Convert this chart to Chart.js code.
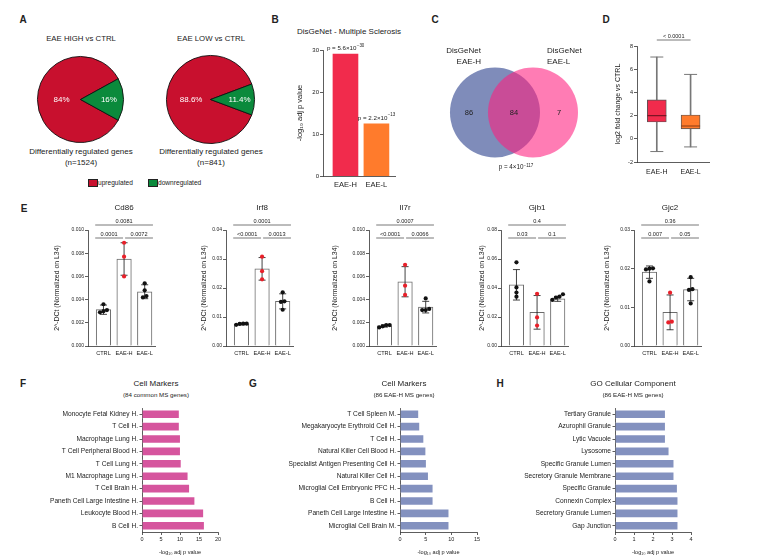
<!DOCTYPE html>
<html>
<head>
<meta charset="utf-8">
<script src="https://cdn.jsdelivr.net/npm/chart.js@4.4.1/dist/chart.umd.min.js"></script>
<style>
  body { margin: 0; background: #fff; }
  #fig { position: relative; width: 760px; height: 560px; overflow: hidden; font-family: 'Liberation Sans', Arial, sans-serif; color: #222; }
  #fig canvas { position: absolute; }
  .t { position: absolute; white-space: nowrap; line-height: 1; transform: translate(-50%, -50%); }
  .t sup { font-size: 72%; vertical-align: 0.45em; line-height: 0; }
  .sq { position: absolute; width: 8px; height: 6px; }
</style>
</head>
<body>
<div id="fig"></div>
<script>
// ---- A: pies
const pieCategories = ['upregulated', 'downregulated'];
const pieHigh = [84, 16];
const pieLow = [88.6, 11.4];
const pieN = [1524, 841];

// ---- B: DisGeNet bars
const msGroups = ['EAE-H', 'EAE-L'];
const msLogP = [29.0, 12.4];
const msMantissa = ['5.6', '2.2'];
const msExponent = ['30', '13'];

// ---- C: venn
const vennSets = ['EAE-H', 'EAE-L'];
const vennCounts = [86, 84, 7]; // H only, shared, L only

// ---- D: box plot
const boxGroups = ['EAE-H', 'EAE-L'];
const boxMin = [-1.1, -0.7];
const boxQ1 = [1.45, 0.85];
const boxMedian = [2.0, 1.1];
const boxQ3 = [3.35, 2.05];
const boxMax = [7.05, 5.55];

// ---- E: qPCR
const qpcrGroups = ['CTRL', 'EAE-H', 'EAE-L'];
const cd86Mean = [0.00313, 0.0075, 0.00468];
const cd86Sd = [0.0004, 0.0014, 0.0006];
const cd86Points = [[0.0029, 0.0036, 0.0031, 0.0030], [0.0089, 0.0077, 0.0060], [0.0042, 0.0054, 0.0048, 0.0043]];
const cd86P = ['0.0081', '0.0001', '0.0072'];
const irf8Mean = [0.0076, 0.0266, 0.0154];
const irf8Sd = [0.0003, 0.0039, 0.0026];
const irf8Points = [[0.0073, 0.0076, 0.0077, 0.0077], [0.0308, 0.0258, 0.0230], [0.0152, 0.0185, 0.0125, 0.0154]];
const irf8P = ['0.0001', '<0.0001', '0.0013'];
const il7rMean = [0.00173, 0.00554, 0.00335];
const il7rSd = [0.0001, 0.0013, 0.0005];
const il7rPoints = [[0.0016, 0.0017, 0.0018, 0.0018], [0.0070, 0.0052, 0.0044], [0.0031, 0.0041, 0.0032, 0.0031]];
const il7rP = ['0.0007', '<0.0001', '0.0066'];
const gjb1Mean = [0.0422, 0.0232, 0.0325];
const gjb1Sd = [0.0105, 0.0116, 0.0017];
const gjb1Points = [[0.0577, 0.0404, 0.0369, 0.0340], [0.0360, 0.0197, 0.0141], [0.0318, 0.0334, 0.0340, 0.0357]];
const gjb1P = ['0.4', '0.03', '0.1'];
const gjc2Mean = [0.0191, 0.0087, 0.0146];
const gjc2Sd = [0.0016, 0.0045, 0.0029];
const gjc2Points = [[0.0201, 0.0200, 0.0198, 0.0167], [0.0138, 0.0061, 0.0063], [0.0178, 0.0147, 0.0145, 0.0110]];
const gjc2P = ['0.36', '0.007', '0.05'];

// ---- F, G, H: enrichment
const commonLabels = ['Monocyte Fetal Kidney H.', 'T Cell H.', 'Macrophage Lung H.', 'T Cell Peripheral Blood H.', 'T Cell Lung H.', 'M1 Macrophage Lung H.', 'T Cell Brain H.', 'Paneth Cell Large Intestine H.', 'Leukocyte Blood H.', 'B Cell H.'];
const commonValues = [9.9, 9.9, 10.2, 10.2, 10.4, 12.2, 12.6, 14.0, 16.3, 16.5];
const highCellLabels = ['T Cell Spleen M.', 'Megakaryocyte Erythroid Cell H.', 'T Cell H.', 'Natural Killer Cell Blood H.', 'Specialist Antigen Presenting Cell H.', 'Natural Killer Cell H.', 'Microglial Cell Embryonic PFC H.', 'B Cell H.', 'Paneth Cell Large Intestine H.', 'Microglial Cell Brain M.'];
const highCellValues = [3.7, 3.9, 4.7, 5.1, 5.2, 5.6, 6.5, 6.5, 9.6, 9.6];
const goLabels = ['Tertiary Granule', 'Azurophil Granule', 'Lytic Vacuole', 'Lysosome', 'Specific Granule Lumen', 'Secretory Granule Membrane', 'Specific Granule', 'Connexin Complex', 'Secretory Granule Lumen', 'Gap Junction'];
const goValues = [2.67, 2.67, 2.67, 2.86, 3.12, 3.12, 3.3, 3.33, 3.33, 3.33];

// ---- styles
const FONT = "'Liberation Sans', Arial, sans-serif";
const AX = '#333';
const PIE_RED = '#C8102E', PIE_GREEN = '#0B8A3C';
const H_RED = '#F12B4C', L_ORANGE = '#FF7B2C';
const DOT_RED = '#E8202A';
const VENN_BLUE = '#7F8CBA', VENN_PINK = 'rgba(255, 30, 125, 0.58)';
const PINK_BAR = '#D6559E', BLUE_BAR = '#8391BF';

Chart.defaults.font.family = FONT;
Chart.defaults.color = '#222';
Chart.defaults.animation = false;
Chart.defaults.responsive = false;
Chart.defaults.events = [];
Chart.defaults.plugins.legend.display = false;
Chart.defaults.plugins.tooltip.enabled = false;

const fig = document.getElementById('fig');

function addCanvas(left, top, w, h) {
    const c = document.createElement('canvas');
    c.width = w; c.height = h;
    c.style.left = left + 'px'; c.style.top = top + 'px';
    c.style.width = w + 'px'; c.style.height = h + 'px';
    fig.appendChild(c);
    return c;
}

function text(html, x, y, size, opts = {}) {
    const d = document.createElement('div');
    d.className = 't';
    d.innerHTML = html;
    d.style.left = x + 'px';
    d.style.top = y + 'px';
    d.style.fontSize = size + 'px';
    if (opts.bold) d.style.fontWeight = 'bold';
    if (opts.align === 'left') d.style.transform = 'translate(0, -50%)';
    if (opts.align === 'right') d.style.transform = 'translate(-100%, -50%)';
    fig.appendChild(d);
    return d;
}

function sciText(ctx, base, exp, cx, cy, size) {
    ctx.save();
    ctx.fillStyle = '#222';
    ctx.textAlign = 'left';
    ctx.textBaseline = 'middle';
    ctx.font = size + 'px ' + FONT;
    const w1 = ctx.measureText(base).width;
    ctx.font = (size * 0.72) + 'px ' + FONT;
    const w2 = ctx.measureText(exp).width;
    const x0 = cx - (w1 + w2) / 2;
    ctx.font = size + 'px ' + FONT;
    ctx.fillText(base, x0, cy);
    ctx.font = (size * 0.72) + 'px ' + FONT;
    ctx.fillText(exp, x0 + w1 + 0.3, cy - size * 0.55);
    ctx.restore();
}

// fixed-size axis helpers
const border = { color: AX, width: 0.8 };
function fixWidth(w) { return s => { s.width = w; }; }
function fixHeight(h) { return s => { s.height = h; }; }

// ---------- panel letters
[['A', 23, 20], ['B', 275, 20], ['C', 435, 20], ['D', 606, 20], ['E', 24, 209], ['F', 23, 384], ['G', 253, 384], ['H', 500, 384]]
    .forEach(([l, x, y]) => text(l, x, y, 10, { bold: true }));

// ---------- A: pies
const PIE_LABEL_R = [0.44, 0.66];
const pieLabels = {
    id: 'pieLabels',
    afterDatasetsDraw(chart) {
        const ctx = chart.ctx;
        const ds = chart.data.datasets[0];
        ctx.save();
        ctx.fillStyle = '#fff';
        ctx.font = '8px ' + FONT;
        ctx.textAlign = 'center';
        ctx.textBaseline = 'middle';
        chart.getDatasetMeta(0).data.forEach((arc, i) => {
            const p = arc.getProps(['x', 'y', 'startAngle', 'endAngle', 'outerRadius'], true);
            const a = (p.startAngle + p.endAngle) / 2;
            const r = p.outerRadius * PIE_LABEL_R[i];
            ctx.fillText(ds.data[i] + '%', p.x + Math.cos(a) * r, p.y + Math.sin(a) * r);
        });
        ctx.restore();
    }
};

function pie(canvas, values) {
    // centre the small slice on 3 o'clock
    const rotation = -270 + 1.8 * values[1];
    new Chart(canvas, {
        type: 'pie',
        data: {
            labels: pieCategories,
            datasets: [{ data: values, backgroundColor: [PIE_RED, PIE_GREEN], borderColor: '#111', borderWidth: 0.9 }]
        },
        options: { rotation, layout: { padding: 1 } },
        plugins: [pieLabels]
    });
}
pie(addCanvas(36, 55, 89, 89), pieHigh);
pie(addCanvas(165, 54, 91, 91), pieLow);

text('EAE HIGH vs CTRL', 81, 39, 7.8);
text('EAE LOW vs CTRL', 211, 39, 7.8);
text('Differentially regulated genes', 81, 152, 8);
text('(n=' + pieN[0] + ')', 81, 163, 8);
text('Differentially regulated genes', 211, 152, 8);
text('(n=' + pieN[1] + ')', 211, 163, 8);

[[PIE_RED, 88], [PIE_GREEN, 148]].forEach(([col, x], i) => {
    const s = document.createElement('div');
    s.className = 'sq';
    s.style.left = x + 'px'; s.style.top = '179px';
    s.style.background = col; s.style.border = '0.5px solid #222';
    fig.appendChild(s);
    text(pieCategories[i], x + 10, 182.5, 6.6, { align: 'left' });
});

// ---------- B: DisGeNet bars
text('DisGeNet - Multiple Sclerosis', 349, 32, 8);
const msPLabels = {
    id: 'msPLabels',
    afterDatasetsDraw(chart) {
        const { x, y } = chart.scales;
        msGroups.forEach((g, i) => {
            sciText(chart.ctx, 'p = ' + msMantissa[i] + '×10', '−' + msExponent[i],
                x.getPixelForValue(i + 1), y.getPixelForValue(msLogP[i]) - 5.5, 6.2);
        });
    }
};
new Chart(addCanvas(295, 30, 108, 165), {
    type: 'bar',
    data: {
        datasets: [{
            data: msLogP.map((v, i) => ({ x: i + 1, y: v })),
            backgroundColor: [H_RED, L_ORANGE],
            barThickness: 25
        }]
    },
    options: {
        layout: { padding: { top: 20, right: 8 } },
        scales: {
            x: {
                type: 'linear', min: 0.274, max: 2.6, offset: false,
                afterBuildTicks: s => { s.ticks = msGroups.map((g, i) => ({ value: i + 1 })); },
                afterFit: fixHeight(19),
                border,
                grid: { drawOnChartArea: false, drawTicks: false, offset: false },
                ticks: { callback: v => msGroups[v - 1], font: { size: 7.5 }, padding: 4, autoSkip: false, maxRotation: 0 }
            },
            y: {
                min: 0, max: 30,
                afterFit: fixWidth(28),
                border,
                grid: { drawOnChartArea: false, color: AX, lineWidth: 0.8, tickLength: 3 },
                ticks: { stepSize: 10, font: { size: 6 }, padding: 1 },
                title: { display: true, text: '-log₁₀ adj p value', font: { size: 7.5 }, padding: 0 }
            }
        }
    },
    plugins: [msPLabels]
});

// ---------- C: venn
// bubble charts pad the chart area by the largest radius, so the canvas
// is grown by VENN_R on each side to keep the plot area at 440..590 x 60..165
const VENN_R = 45;
const vennNumbers = {
    id: 'vennNumbers',
    afterDatasetsDraw(chart) {
        const { x, y } = chart.scales;
        const c0 = x.getPixelForValue(0), c1 = x.getPixelForValue(1), cy = y.getPixelForValue(0);
        const spots = [((c0 - VENN_R) + (c1 - VENN_R)) / 2, (c0 + c1) / 2, ((c0 + VENN_R) + (c1 + VENN_R)) / 2];
        const ctx = chart.ctx;
        ctx.save();
        ctx.fillStyle = '#222';
        ctx.font = '7.5px ' + FONT;
        ctx.textAlign = 'center';
        ctx.textBaseline = 'middle';
        vennCounts.forEach((n, i) => ctx.fillText(String(n), spots[i], cy));
        ctx.restore();
    }
};
new Chart(addCanvas(440 - VENN_R, 60 - VENN_R, 150 + 2 * VENN_R, 105 + 2 * VENN_R), {
    type: 'bubble',
    data: {
        datasets: [{
            data: vennSets.map((s, i) => ({ x: i, y: 0, r: VENN_R })),
            backgroundColor: [VENN_BLUE, VENN_PINK],
            borderWidth: 0,
            clip: false
        }]
    },
    options: {
        layout: { padding: 0 },
        scales: {
            x: { display: false, min: -1.447, max: 2.5 },
            y: { display: false, min: -1, max: 1 }
        }
    },
    plugins: [vennNumbers]
});
text('DisGeNet', 481, 51, 8, { align: 'right' });
text(vennSets[0], 481, 62, 8, { align: 'right' });
text('DisGeNet', 547, 51, 8, { align: 'left' });
text(vennSets[1], 547, 62, 8, { align: 'left' });
text('p = 4×10<sup>−117</sup>', 516, 167, 6.3);

// ---------- D: box plot
const boxSig = {
    id: 'boxSig',
    afterDraw(chart) {
        const { ctx, chartArea, scales: { x } } = chart;
        const x0 = x.getPixelForValue(1), x1 = x.getPixelForValue(2), yy = chartArea.top - 6;
        ctx.save();
        ctx.strokeStyle = '#555'; ctx.lineWidth = 0.8;
        ctx.beginPath(); ctx.moveTo(x0, yy); ctx.lineTo(x1, yy); ctx.stroke();
        ctx.fillStyle = '#222'; ctx.font = '5.5px ' + FONT; ctx.textAlign = 'center'; ctx.textBaseline = 'alphabetic';
        ctx.fillText('< 0.0001', (x0 + x1) / 2, yy - 2.5);
        ctx.restore();
    }
};
new Chart(addCanvas(614, 25, 106, 160), {
    type: 'bar',
    data: {
        datasets: [
            {
                type: 'bar', grouped: false, order: 3,
                data: boxGroups.map((g, i) => ({ x: i + 1, y: [boxMin[i], boxMax[i]] })),
                backgroundColor: '#777', barThickness: 1
            },
            {
                type: 'bar', grouped: false, order: 2,
                data: boxGroups.map((g, i) => ({ x: i + 1, y: [boxQ1[i], boxQ3[i]] })),
                backgroundColor: [H_RED, L_ORANGE], borderColor: '#555', borderWidth: 0.9,
                borderSkipped: false, barThickness: 19
            },
            {
                type: 'scatter', order: 1,
                data: boxGroups.map((g, i) => ({ x: i + 1, y: boxMedian[i] })),
                pointStyle: 'line', pointRadius: 9.5, pointBorderColor: ['#7d1424', '#8a3a10'], pointBorderWidth: 1.1
            },
            {
                type: 'scatter', order: 1,
                data: boxGroups.flatMap((g, i) => [{ x: i + 1, y: boxMin[i] }, { x: i + 1, y: boxMax[i] }]),
                pointStyle: 'line', pointRadius: 6.5, pointBorderColor: '#777', pointBorderWidth: 1
            }
        ]
    },
    options: {
        layout: { padding: { top: 21, right: 8 } },
        scales: {
            x: {
                type: 'linear', min: 0.414, max: 2.557, offset: false,
                afterBuildTicks: s => { s.ticks = boxGroups.map((g, i) => ({ value: i + 1 })); },
                afterFit: fixHeight(23),
                border,
                grid: { drawOnChartArea: false, drawTicks: false, offset: false },
                ticks: { callback: v => boxGroups[v - 1], font: { size: 7 }, padding: 6, autoSkip: false, maxRotation: 0 }
            },
            y: {
                min: -2, max: 8,
                afterFit: fixWidth(23),
                border,
                grid: { drawOnChartArea: false, color: AX, lineWidth: 0.8, tickLength: 3 },
                ticks: { stepSize: 2, font: { size: 5.5 }, padding: 1 },
                title: { display: true, text: 'log2 fold change vs CTRL', font: { size: 7 }, padding: 0 }
            }
        }
    },
    plugins: [boxSig]
});

// ---------- E: qPCR panels
const qpcrGenes = [
    { gene: 'Cd86', mean: cd86Mean, sd: cd86Sd, points: cd86Points, p: cd86P, yMax: 0.010, step: 0.002, dec: 3 },
    { gene: 'Irf8', mean: irf8Mean, sd: irf8Sd, points: irf8Points, p: irf8P, yMax: 0.04, step: 0.01, dec: 2 },
    { gene: 'Il7r', mean: il7rMean, sd: il7rSd, points: il7rPoints, p: il7rP, yMax: 0.010, step: 0.002, dec: 3 },
    { gene: 'Gjb1', mean: gjb1Mean, sd: gjb1Sd, points: gjb1Points, p: gjb1P, yMax: 0.08, step: 0.02, dec: 2 },
    { gene: 'Gjc2', mean: gjc2Mean, sd: gjc2Sd, points: gjc2Points, p: gjc2P, yMax: 0.03, step: 0.01, dec: 2 }
];
const qpcrLayout = [
    { axisX: 88, axisW: 35 },
    { axisX: 226, axisW: 26 },
    { axisX: 369, axisW: 38 },
    { axisX: 501, axisW: 23 },
    { axisX: 634, axisW: 31 }
];

// spread points that would overlap, like a small beeswarm
function swarm(vals, yMax) {
    const thr = yMax * 0.035, step = 0.17;
    const idx = vals.map((v, i) => i).sort((a, b) => vals[a] - vals[b]);
    const off = vals.map(() => 0);
    let cluster = [idx[0]];
    const flush = () => cluster.forEach((k, j) => { off[k] = (j - (cluster.length - 1) / 2) * step; });
    for (let j = 1; j < idx.length; j++) {
        if (vals[idx[j]] - vals[idx[j - 1]] < thr) cluster.push(idx[j]);
        else { flush(); cluster = [idx[j]]; }
    }
    flush();
    return off;
}

function errorBars(g) {
    return {
        id: 'errorBars',
        afterDatasetDraw(chart, args) {
            if (args.index !== 0) return;
            const { ctx, scales: { x, y } } = chart;
            ctx.save();
            ctx.strokeStyle = '#111';
            ctx.lineWidth = 0.8;
            g.mean.forEach((m, k) => {
                const px = x.getPixelForValue(k + 1);
                const top = y.getPixelForValue(m + g.sd[k]);
                const bot = y.getPixelForValue(Math.max(0, m - g.sd[k]));
                ctx.beginPath();
                ctx.moveTo(px, top); ctx.lineTo(px, bot);
                ctx.moveTo(px - 3.5, top); ctx.lineTo(px + 3.5, top);
                ctx.moveTo(px - 3.5, bot); ctx.lineTo(px + 3.5, bot);
                ctx.stroke();
            });
            ctx.restore();
        }
    };
}

function brackets(g) {
    // top: CTRL vs EAE-L, lower left: CTRL vs EAE-H, lower right: EAE-H vs EAE-L
    const rows = [[0.6, 3.4, -5], [0.6, 1.95, 8], [2.05, 3.4, 8]];
    return {
        id: 'brackets',
        afterDraw(chart) {
            const { ctx, chartArea, scales: { x } } = chart;
            ctx.save();
            ctx.strokeStyle = '#555';
            ctx.lineWidth = 0.8;
            ctx.fillStyle = '#222';
            ctx.textAlign = 'center';
            ctx.textBaseline = 'alphabetic';
            ctx.font = '5.6px ' + FONT;
            rows.forEach((r, i) => {
                const x0 = x.getPixelForValue(r[0]), x1 = x.getPixelForValue(r[1]);
                const yy = chartArea.top + r[2];
                ctx.beginPath(); ctx.moveTo(x0, yy); ctx.lineTo(x1, yy); ctx.stroke();
                ctx.fillText(g.p[i], (x0 + x1) / 2, yy - 2.5);
            });
            ctx.textBaseline = 'middle';
            ctx.font = '8px ' + FONT;
            ctx.fillText(g.gene, x.getPixelForValue(2), chartArea.top - 22);
            ctx.restore();
        }
    };
}

qpcrGenes.forEach((g, i) => {
    const L = qpcrLayout[i];
    const chartW = 67, padR = 5;
    const canvas = addCanvas(L.axisX - L.axisW, 200, L.axisW + chartW + padR, 165);
    const pts = [];
    g.points.forEach((vals, k) => {
        const off = swarm(vals, g.yMax);
        vals.forEach((v, j) => pts.push({ x: k + 1 + off[j], y: v, k }));
    });
    new Chart(canvas, {
        type: 'bar',
        data: {
            datasets: [
                {
                    type: 'bar', order: 2,
                    data: g.mean.map((m, k) => ({ x: k + 1, y: m })),
                    backgroundColor: '#fff', borderColor: '#6b6b6b', borderWidth: 1, barThickness: 14.5
                },
                {
                    type: 'scatter', order: 1,
                    data: pts,
                    pointRadius: 2.1, pointBorderWidth: 0,
                    pointBackgroundColor: pts.map(p => (p.k === 1 ? DOT_RED : '#111'))
                }
            ]
        },
        options: {
            layout: { padding: { top: 30, right: padR } },
            scales: {
                x: {
                    type: 'linear', min: 0.25, max: 3.5, offset: false,
                    afterBuildTicks: s => { s.ticks = qpcrGroups.map((q, k) => ({ value: k + 1 })); },
                    afterFit: fixHeight(19),
                    border,
                    grid: { drawOnChartArea: false, drawTicks: false, offset: false },
                    ticks: { callback: v => qpcrGroups[v - 1], font: { size: 5.6 }, padding: 4, autoSkip: false, maxRotation: 0 }
                },
                y: {
                    min: 0, max: g.yMax,
                    afterFit: fixWidth(L.axisW),
                    border,
                    grid: { drawOnChartArea: false, color: AX, lineWidth: 0.8, tickLength: 3 },
                    ticks: { stepSize: g.step, callback: v => v.toFixed(g.dec), font: { size: 5 }, padding: 1 },
                    title: { display: true, text: '2^-DCt (Normalized on L34)', font: { size: 6.9 }, padding: 0 }
                }
            }
        },
        plugins: [errorBars(g), brackets(g)]
    });
});

// ---------- F, G, H: enrichment bars
function enrichChart(left, axisW, chartW, padR, labels, values, xMax, xStep, color) {
    new Chart(addCanvas(left, 400, axisW + chartW + padR, 160), {
        type: 'bar',
        data: {
            labels,
            datasets: [{
                data: values, backgroundColor: color,
                borderColor: 'rgba(255,255,255,0.6)', borderWidth: 0.8,
                barPercentage: 0.74, categoryPercentage: 1
            }]
        },
        options: {
            indexAxis: 'y',
            layout: { padding: { top: 8, right: padR } },
            scales: {
                x: {
                    min: 0, max: xMax,
                    afterFit: fixHeight(28),
                    border,
                    grid: { drawOnChartArea: false, color: AX, lineWidth: 0.8, tickLength: 3 },
                    ticks: { stepSize: xStep, font: { size: 5.5 }, padding: 1, maxRotation: 0 },
                    title: { display: true, text: '-log₁₀ adj p value', font: { size: 5.6 }, padding: { top: 0, bottom: 4 } }
                },
                y: {
                    afterFit: fixWidth(axisW),
                    border,
                    grid: { drawOnChartArea: false, color: AX, lineWidth: 0.8, tickLength: 2.5, offset: false },
                    ticks: { font: { size: 6.6 }, padding: 1.5, autoSkip: false }
                }
            }
        }
    });
}
enrichChart(40, 102, 76, 12, commonLabels, commonValues, 20, 5, PINK_BAR);
enrichChart(280, 120, 77, 13, highCellLabels, highCellValues, 15, 5, BLUE_BAR);
enrichChart(515, 100, 76, 14, goLabels, goValues, 4, 1, BLUE_BAR);

text('Cell Markers', 156, 384, 8);
text('(84 common MS genes)', 156, 395, 6.2);
text('Cell Markers', 404, 384, 8);
text('(86 EAE-H MS genes)', 404, 395, 6.2);
text('GO Cellular Component', 633, 384, 8);
text('(86 EAE-H MS genes)', 633, 395, 6.2);
</script>
</body>
</html>
